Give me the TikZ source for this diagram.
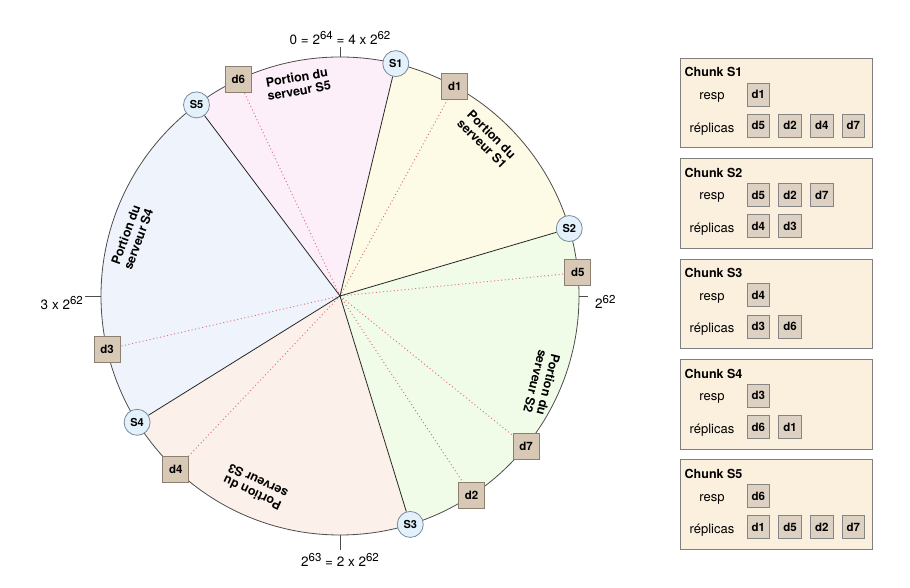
\documentclass[tikz,border=0pt]{standalone}
\usepackage{fontspec}
\setmainfont{TeX Gyre Heros}
\usetikzlibrary{calc}
\definecolor{pinkS}{HTML}{FCEFF9}
\definecolor{yelS}{HTML}{FDFAE5}
\definecolor{greS}{HTML}{F0FCE8}
\definecolor{peaS}{HTML}{FBF1EA}
\definecolor{bluS}{HTML}{EEF3FC}
\definecolor{servF}{HTML}{E2F1FB}
\definecolor{servB}{HTML}{7A8A99}
\definecolor{datF}{HTML}{D8C9B6}
\definecolor{datB}{HTML}{8C7F70}
\definecolor{miniF}{HTML}{DCD1C3}
\definecolor{miniB}{HTML}{858585}
\definecolor{chunkF}{HTML}{FBF0DE}
\definecolor{chunkB}{HTML}{7F7F7F}
\definecolor{dotred}{HTML}{E07070}
\newcommand\rsup[1]{\raisebox{5pt}{\fontsize{11.5}{12}\selectfont #1}}
\begin{document}
\begin{tikzpicture}[x=1pt,y=1pt,
 server/.style={circle, draw=servB, fill=servF, line width=0.8pt, minimum size=26pt, inner sep=0pt, font=\bfseries\fontsize{11}{12}\selectfont},
 datum/.style={rectangle, draw=datB, fill=datF, line width=0.8pt, minimum size=26pt, inner sep=0pt, font=\bfseries\fontsize{11.5}{12}\selectfont},
 mini/.style={rectangle, draw=miniB, fill=miniF, line width=0.8pt, minimum width=22.5pt, minimum height=23pt, inner sep=0pt, font=\bfseries\fontsize{11.5}{12}\selectfont},
 chunk/.style={rectangle, draw=chunkB, fill=chunkF, line width=0.9pt, minimum width=191.5pt, minimum height=89.5pt, inner sep=0pt},
 portion/.style={font=\bfseries\fontsize{12.5}{13.5}\selectfont, align=center, inner sep=0pt},
 radial/.style={draw=black!85, line width=0.8pt},
 hashlink/.style={draw=dotred, line width=0.9pt, dash pattern=on 1pt off 2.6pt},
 tickmark/.style={draw=black!70, line width=0.8pt},
 ringlbl/.style={font=\fontsize{13.5}{15}\selectfont, inner sep=0pt},
 plain/.style={font=\fontsize{13}{15}\selectfont, inner sep=0pt}
]
\useasboundingbox (0,0) rectangle (910,588);
\coordinate (ctr) at (340,292);
% sectors
\fill[pinkS] (ctr) -- ++(76.5:239) arc[start angle=76.5, end angle=126.9, radius=239] -- cycle;
\fill[yelS] (ctr) -- ++(16.4:239) arc[start angle=16.4, end angle=76.5, radius=239] -- cycle;
\fill[greS] (ctr) -- ++(-72.9:239) arc[start angle=-72.9, end angle=16.4, radius=239] -- cycle;
\fill[peaS] (ctr) -- ++(-148.1:239) arc[start angle=-148.1, end angle=-72.9, radius=239] -- cycle;
\fill[bluS] (ctr) -- ++(126.9:239) arc[start angle=126.9, end angle=211.9, radius=239] -- cycle;
\draw[draw=black!70, line width=0.8pt] (ctr) circle[radius=239];
% ticks
\path (ctr) ++(90:239) coordinate (tN0) ++(90:10) coordinate (tN1);
\path (ctr) ++(0:239) coordinate (tE0) ++(0:9) coordinate (tE1);
\path (ctr) ++(-90:239) coordinate (tS0) ++(-90:15) coordinate (tS1);
\path (ctr) ++(180:239) coordinate (tW0) ++(180:16) coordinate (tW1);
\draw[tickmark] (tN0) -- (tN1);
\draw[tickmark] (tE0) -- (tE1);
\draw[tickmark] (tS0) -- (tS1);
\draw[tickmark] (tW0) -- (tW1);
\node[ringlbl, anchor=base] (lblN) at (340,543) {0 = 2\rsup{64} = 4 x 2\rsup{62}};
\node[ringlbl, anchor=base] (lblS) at (340,21) {2\rsup{63} = 2 x 2\rsup{62}};
\node[ringlbl, anchor=base east] (lblW) at (83,278) {3 x 2\rsup{62}};
\node[ringlbl, anchor=base west] (lblE) at (595,279) {2\rsup{62}};
% servers
\path (ctr) ++(76.5:239) node[server] (S1) {S1};
\path (ctr) ++(16.4:239) node[server] (S2) {S2};
\path (ctr) ++(-72.9:239) node[server] (S3) {S3};
\path (ctr) ++(211.9:239) node[server] (S4) {S4};
\path (ctr) ++(126.9:239) node[server] (S5) {S5};
% data
\path (ctr) ++(61.3:239) node[datum] (d1) {d1};
\path (ctr) ++(-56.6:239) node[datum] (d2) {d2};
\path (ctr) ++(192.9:239) node[datum] (d3) {d3};
\path (ctr) ++(226.6:239) node[datum] (d4) {d4};
\path (ctr) ++(5.6:239) node[datum] (d5) {d5};
\path (ctr) ++(115.2:239) node[datum] (d6) {d6};
\path (ctr) ++(-38.9:239) node[datum] (d7) {d7};
% links
\foreach \d in {d1,d2,d3,d4,d5,d6,d7} {\draw[hashlink] (ctr) -- (\d);}
\foreach \s in {S1,S2,S3,S4,S5} {\draw[radial] (ctr) -- (\s);}
% portions
\node[portion, rotate=10] (p5) at (298,504) {Portion du\\serveur S5};
\node[portion, rotate=-45] (p1) at (487,449) {Portion du\\serveur S1};
\node[portion, rotate=-104] (p2) at (542,205) {Portion du\\serveur S2};
\node[portion, rotate=155] (p3) at (255,101) {Portion du\\serveur S3};
\node[portion, rotate=70] (p4) at (132,351) {Portion du\\serveur S4};
% chunks
\foreach \k/\resp/\repl in {1/{d1}/{d5,d2,d4,d7},2/{d5,d2,d7}/{d4,d3},3/{d4}/{d3,d6},4/{d3}/{d6,d1},5/{d6}/{d1,d5,d2,d7}}{
  \pgfmathsetmacro{\yt}{529.7-100.4*(\k-1)}
  \node[chunk] (box\k) at (776.5,\yt-44.75) {};
  \node[anchor=base west, inner sep=0pt, font=\bfseries\fontsize{12.5}{14}\selectfont] (ttl\k) at (684.5,\yt-18.7) {Chunk S\k};
  \node[plain, anchor=base] (rl\k) at (712,\yt-41.2) {resp};
  \node[plain, anchor=base] (pl\k) at (712,\yt-73.9) {réplicas};
  \foreach \d [count=\j from 0] in \resp {\node[mini] (r\k\d) at ({758.3+31.7*\j},\yt-36.2) {\d};}
  \foreach \d [count=\j from 0] in \repl {\node[mini] (q\k\d) at ({758.3+31.7*\j},\yt-67.5) {\d};}
}
\end{tikzpicture}
\end{document}
